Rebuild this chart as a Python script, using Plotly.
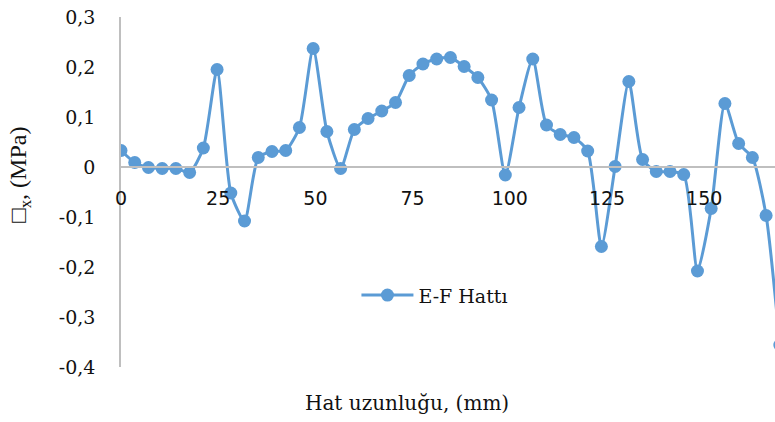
import plotly.graph_objects as go

# Position along the E-F line (mm) and the stress measured there (MPa)
hat_uzunlugu = [0.00, 3.53, 7.06, 10.59, 14.12, 17.65, 21.18, 24.71, 28.24, 31.77,
                35.30, 38.83, 42.36, 45.89, 49.42, 52.95, 56.48, 60.01, 63.54, 67.07,
                70.60, 74.13, 77.66, 81.19, 84.72, 88.25, 91.78, 95.31, 98.84, 102.37,
                105.90, 109.43, 112.96, 116.49, 120.02, 123.55, 127.08, 130.61, 134.14, 137.67,
                141.20, 144.73, 148.26, 151.79, 155.32, 158.85, 162.38, 165.91, 169.44]
gerilme = [0.033, 0.009, -0.001, -0.003, -0.003, -0.011, 0.038, 0.195, -0.052, -0.108,
           0.019, 0.031, 0.033, 0.079, 0.237, 0.071, -0.003, 0.075, 0.097, 0.112,
           0.129, 0.183, 0.206, 0.216, 0.219, 0.201, 0.179, 0.134, -0.016, 0.119,
           0.216, 0.084, 0.065, 0.059, 0.032, -0.159, 0.001, 0.171, 0.015, -0.009,
           -0.009, -0.015, -0.208, -0.083, 0.127, 0.047, 0.019, -0.097, -0.356]

seri_adi = "E-F Hattı"
x_tick_vals = [0, 25, 50, 75, 100, 125, 150]
x_tick_text = ["0", "25", "50", "75", "100", "125", "150"]
y_tick_vals = [-0.4, -0.3, -0.2, -0.1, 0.0, 0.1, 0.2, 0.3]
y_tick_text = ["-0,4", "-0,3", "-0,2", "-0,1", "0", "0,1", "0,2", "0,3"]

BLUE = "#5B9BD5"
GREY = "#BFBFBF"
Y_MIN, Y_MAX = -0.4, 0.3

fig = go.Figure()
fig.add_trace(go.Scatter(
    x=hat_uzunlugu, y=gerilme, name=seri_adi,
    mode="lines+markers",
    line=dict(color=BLUE, width=3, shape="spline", smoothing=0.6),
    marker=dict(color=BLUE, size=13),
))

# horizontal axis crosses the vertical one at zero stress
zero_pos = (0 - Y_MIN) / (Y_MAX - Y_MIN)

fig.update_layout(
    width=775, height=422, autosize=False,
    margin=dict(l=121, r=0, t=17, b=55),
    plot_bgcolor="white", paper_bgcolor="white",
    showlegend=True,
    legend=dict(x=0.36, y=0.205, xanchor="left", yanchor="middle",
                bgcolor="rgba(0,0,0,0)", itemwidth=52,
                font=dict(family="DejaVu Serif", size=19, color="#111111")),
    xaxis=dict(range=[0, 168.2], anchor="free", position=zero_pos,
               showline=True, linecolor=GREY, linewidth=1.5,
               showgrid=False, zeroline=False, ticks="",
               tickvals=x_tick_vals, ticktext=x_tick_text,
               ticklabelstandoff=14,
               tickfont=dict(family="DejaVu Sans", size=19, color="#111111")),
    yaxis=dict(range=[Y_MIN, Y_MAX], showline=True, linecolor=GREY, linewidth=1.5,
               showgrid=False, zeroline=False, ticks="",
               tickvals=y_tick_vals, ticktext=y_tick_text,
               ticklabelstandoff=20,
               tickfont=dict(family="DejaVu Serif", size=19, color="#111111")),
    annotations=[
        dict(text="Hat uzunluğu, (mm)", xref="paper", yref="paper",
             x=0.437, y=-0.103, xanchor="center", yanchor="middle", showarrow=False,
             font=dict(family="DejaVu Serif", size=20, color="#111111")),
        dict(text="□<sub>x</sub>, (MPa)", xref="paper", yref="paper",
             x=-0.154, y=0.55, xanchor="center", yanchor="middle", showarrow=False,
             textangle=-90,
             font=dict(family="Liberation Serif", size=24, color="#111111")),
    ],
)

fig.write_html("out.html")
